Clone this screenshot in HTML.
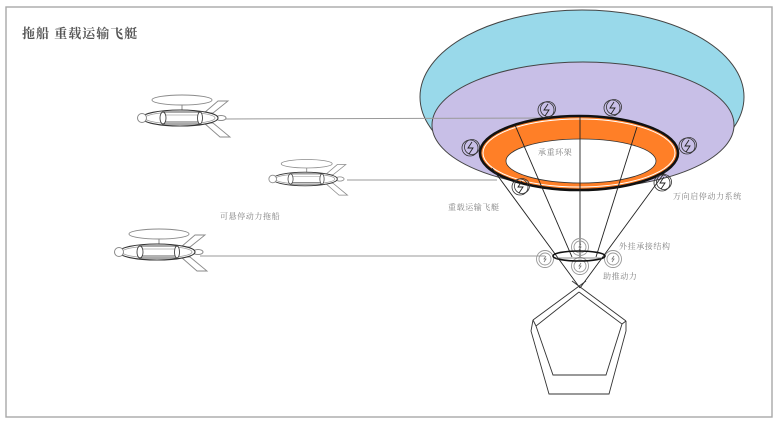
<!DOCTYPE html>
<html><head><meta charset="utf-8">
<style>
html,body{margin:0;padding:0;background:#fff;}
svg{display:block;}
.lb{font-family:"Liberation Serif","Noto Serif CJK SC",serif;fill:#808080;font-size:8px;letter-spacing:0.6px;}
</style></head>
<body>
<svg width="780" height="433" viewBox="0 0 780 433" xmlns="http://www.w3.org/2000/svg">
<defs>
  <g id="drone">
    <ellipse cx="2" cy="-18" rx="30" ry="5" fill="none" stroke="#8a8a8a" stroke-width="0.9"/>
    <line x1="2" y1="-13" x2="2" y2="-7" stroke="#8a8a8a"/>
    <polygon points="24,-5 38,-17 48,-17 33,-5" fill="#fff" stroke="#8a8a8a" stroke-width="0.9"/>
    <polygon points="24,5 40,19 50,19 33,5" fill="#fff" stroke="#8a8a8a" stroke-width="0.9"/>
    <ellipse cx="41" cy="0" rx="5" ry="2.5" fill="#fff" stroke="#8a8a8a"/>
    <ellipse cx="0" cy="0" rx="38" ry="8" fill="#fff" stroke="#333" stroke-width="1.1"/>
    <ellipse cx="0" cy="0" rx="35" ry="6" fill="none" stroke="#999" stroke-width="0.8"/>
    <rect x="-17" y="-6" width="37" height="12" fill="#fff" stroke="#444" stroke-width="0.9"/>
    <line x1="-17" y1="-3" x2="20" y2="-3" stroke="#aaa" stroke-width="0.8"/>
    <line x1="-17" y1="4" x2="20" y2="4" stroke="#666" stroke-width="0.9"/>
    <ellipse cx="-17" cy="0" rx="3" ry="6" fill="#fff" stroke="#444" stroke-width="0.9"/>
    <ellipse cx="20" cy="0" rx="2.5" ry="6" fill="#fff" stroke="#444" stroke-width="0.9"/>
    <circle cx="-38" cy="0" r="4.5" fill="#fff" stroke="#8a8a8a"/>
  </g>
  <g id="motor">
    <circle cx="0" cy="0" r="8" fill="none" stroke="#333" stroke-width="0.8"/>
    <circle cx="2" cy="-1" r="7.5" fill="none" stroke="#333" stroke-width="0.8"/>
    <path d="M2,-6 L-2,0 L3,0 L-1,6" fill="none" stroke="#222" stroke-width="0.9"/>
  </g>
  <g id="smotor">
    <circle cx="0" cy="0" r="8.5" fill="none" stroke="#999" stroke-width="0.9"/>
    <circle cx="0" cy="0" r="6" fill="none" stroke="#999" stroke-width="0.9"/>
    <path d="M1,-3 L-1,0 L1,0 L-1,3" fill="none" stroke="#777" stroke-width="0.8"/>
  </g>
</defs>

<rect x="6" y="7" width="766" height="410" fill="#fff" stroke="#a8a8a8" stroke-width="1.4"/>

<text x="22" y="38" font-family="'Liberation Serif','Noto Serif CJK SC',serif" font-size="13" fill="#555" letter-spacing="1" font-weight="bold">拖船 重载运输飞艇</text>

<!-- balloon -->
<ellipse cx="582" cy="97" rx="162" ry="87" fill="#99D9EA" stroke="#444" stroke-width="1"/>
<ellipse cx="583" cy="125" rx="151" ry="63" fill="#C8BFE7" stroke="#444" stroke-width="1"/>

<!-- connectors from drones -->
<line x1="225" y1="119" x2="572" y2="118" stroke="#999" stroke-width="1"/>
<line x1="347" y1="180" x2="497" y2="180" stroke="#999" stroke-width="1"/>
<line x1="200" y1="256" x2="545" y2="256" stroke="#999" stroke-width="1"/>

<!-- ring -->
<ellipse cx="579" cy="153" rx="99" ry="37" fill="#FF7F27" stroke="#111" stroke-width="2.6"/>
<ellipse cx="579" cy="153" rx="96" ry="34" fill="none" stroke="#fff" stroke-width="1"/>
<ellipse cx="581" cy="161" rx="75" ry="22" fill="#fff" stroke="#333" stroke-width="0.8"/>

<text class="lb" x="538" y="155">承重环架</text>

<!-- suspension lines -->
<g stroke="#222" stroke-width="0.9" fill="none">
  <line x1="492" y1="168" x2="580" y2="288"/>
  <line x1="515" y1="125" x2="572" y2="257"/>
  <line x1="580" y1="117" x2="580" y2="258"/>
  <line x1="637" y1="127" x2="596" y2="257"/>
  <line x1="668" y1="168" x2="580" y2="288"/>
</g>

<!-- balloon motors -->
<use href="#motor" x="546" y="110"/>
<use href="#motor" x="612" y="108"/>
<use href="#motor" x="470" y="148"/>
<use href="#motor" x="687" y="146"/>
<use href="#motor" x="520" y="187"/>
<use href="#motor" x="662" y="183"/>

<!-- small hanging structure -->
<use href="#smotor" x="580" y="247"/>
<use href="#smotor" x="545" y="259"/>
<use href="#smotor" x="613" y="259"/>
<use href="#smotor" x="580" y="266"/>
<ellipse cx="579" cy="256" rx="26" ry="5" fill="none" stroke="#111" stroke-width="1.6"/>
<line x1="556" y1="258" x2="602" y2="258" stroke="#666" stroke-width="0.8"/>

<!-- pentagon basket -->
<g stroke="#333" stroke-width="0.9" fill="none">
  <line x1="572" y1="281" x2="626" y2="321"/>
  <line x1="586" y1="281" x2="533" y2="320"/>
  <polyline points="533,320 531,331 549,394 609,394 626,331 626,321"/>
  <polyline points="579,292 536,326 553,375 606,375 622,324 579,292"/>
  <line x1="533" y1="320" x2="536" y2="326"/>
  <line x1="626" y1="321" x2="622" y2="324"/>
</g>

<!-- labels -->
<text class="lb" x="448" y="210">重载运输飞艇</text>
<text class="lb" x="673" y="199">万向启停动力系统</text>
<text class="lb" x="619" y="249">外挂承接结构</text>
<text class="lb" x="603" y="279">助推动力</text>
<text class="lb" x="220" y="219">可悬停动力拖船</text>

<!-- drones -->
<use href="#drone" transform="translate(180,118)"/>
<use href="#drone" transform="translate(305,179) scale(0.85)"/>
<use href="#drone" transform="translate(157,252)"/>
</svg>
</body></html>
